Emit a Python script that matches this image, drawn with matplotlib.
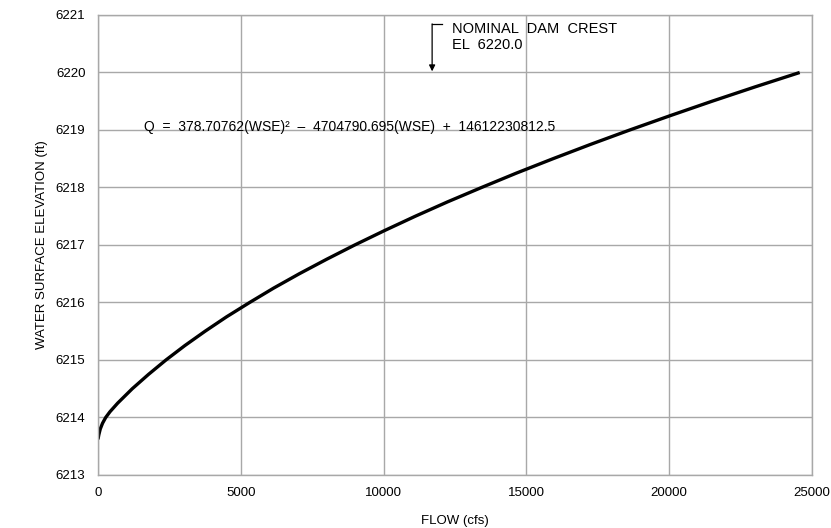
import matplotlib
matplotlib.use("Agg")
import matplotlib.pyplot as plt

# rating curve
WSE = [6213.62, 6213.70, 6213.80, 6213.90,
       6214.00, 6214.10, 6214.25, 6214.50, 6214.75,
       6215.00, 6215.25, 6215.50, 6215.75, 6216.00, 6216.25, 6216.50, 6216.75,
       6217.00, 6217.25, 6217.50, 6217.75, 6218.00, 6218.25, 6218.50, 6218.75,
       6219.00, 6219.25, 6219.50, 6219.75, 6220.00]
FLOW = [0, 30, 80, 160,
        270, 420, 690, 1200, 1770,
        2380, 3040, 3750, 4500, 5310, 6150, 7050, 8000,
        8990, 10030, 11110, 12240, 13430, 14650, 15930, 17250,
        18620, 20040, 21500, 23010, 24570]

X_TICKS = [0, 5000, 10000, 15000, 20000, 25000]
Y_TICKS = list(range(6213, 6222))

EQUATION = "Q  =  378.70762(WSE)\u00b2  \u2013  4704790.695(WSE)  +  14612230812.5"
CREST_LABEL = "NOMINAL  DAM  CREST\nEL  6220.0"
CREST_X = 11700
CREST_EL = 6220.0

plt.rcParams["font.family"] = ["Liberation Sans", "DejaVu Sans"]

fig = plt.figure(figsize=(8.31, 5.28), dpi=100)
ax = fig.add_axes([0.1179, 0.1004, 0.8592, 0.8712])

ax.plot(FLOW, WSE, color="black", linewidth=2.4, solid_joinstyle="round",
        solid_capstyle="butt")

ax.set_xlim(0, 25000)
ax.set_ylim(6213, 6221)
ax.set_xticks(X_TICKS)
ax.set_yticks(Y_TICKS)
ax.tick_params(length=0, labelsize=9.5, pad=9, colors="black")
ax.grid(True, color="#a8a8a8", linewidth=1)
for s in ax.spines.values():
    s.set_color("#a8a8a8")
    s.set_linewidth(1)
ax.set_axisbelow(True)

ax.set_xlabel("FLOW (cfs)", fontsize=9.5, labelpad=11)
ax.set_ylabel("WATER SURFACE ELEVATION (ft)", fontsize=9.5, labelpad=6)

# equation
ax.text(1600, 6219.05, EQUATION, fontsize=10, va="center", ha="left")

# dam crest callout
ax.plot([CREST_X, CREST_X + 350], [6220.84, 6220.84], color="black", linewidth=0.9)
ax.annotate("", xy=(CREST_X, CREST_EL + 0.02), xytext=(CREST_X, 6220.845),
            arrowprops=dict(arrowstyle="-|>", color="black", lw=0.9,
                            mutation_scale=9, shrinkA=0, shrinkB=0))
ax.text(CREST_X + 700, 6220.87, CREST_LABEL, fontsize=10.5, va="top", ha="left",
        linespacing=1.1)

fig.savefig("out.png", dpi=100)
